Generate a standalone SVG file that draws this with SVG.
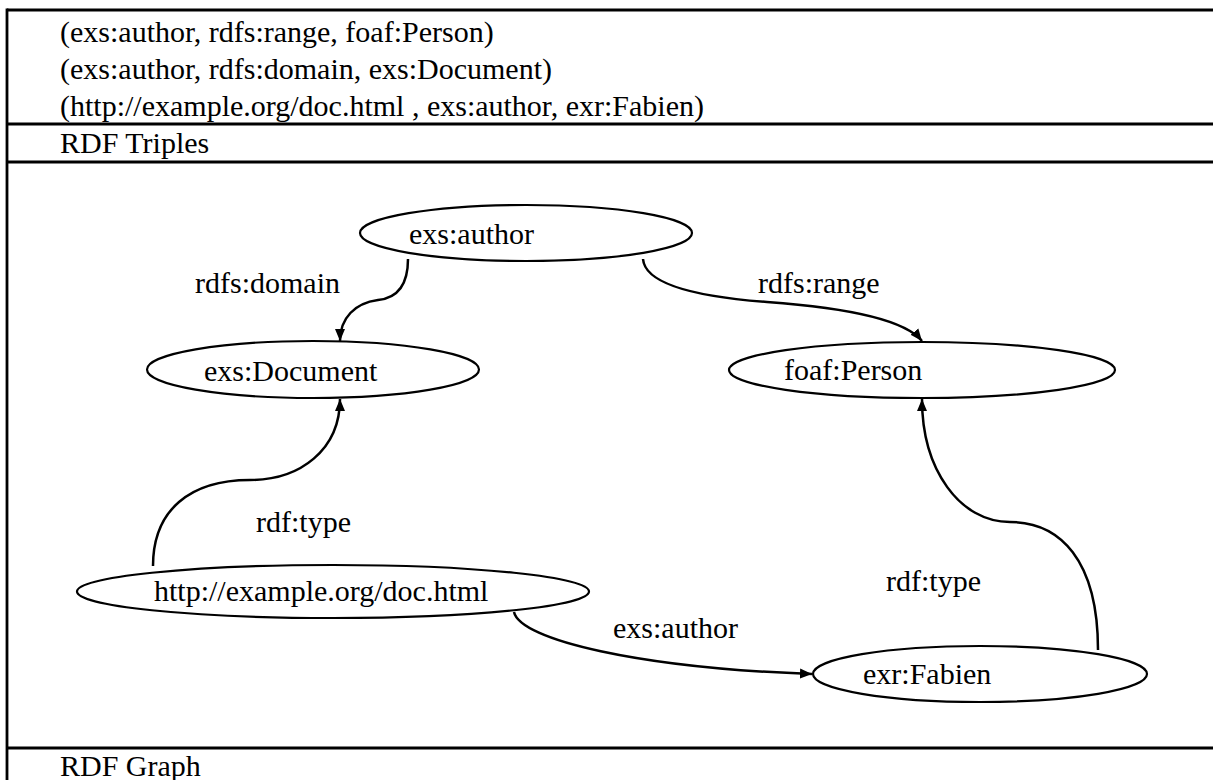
<svg xmlns="http://www.w3.org/2000/svg" width="1213" height="780" viewBox="0 0 1213 780">
<style>
text{font-family:"Liberation Serif","Times New Roman",serif;font-size:30px;fill:#000}
.tbl{stroke:#000;stroke-width:2.8;fill:none}
.node ellipse{fill:#fff;stroke:#000;stroke-width:2.2}
.edge{fill:none;stroke:#000;stroke-width:2.5}
</style>
<defs>
<marker id="arr" markerWidth="14" markerHeight="12" refX="12" refY="6" orient="auto" markerUnits="userSpaceOnUse">
<path d="M0,1 L12,6 L0,11 Z" fill="#000"/>
</marker>
</defs>
<rect width="1213" height="780" fill="#fff"/>
<g id="table">
<line class="tbl" x1="7" y1="10" x2="1213" y2="10"/>
<line class="tbl" x1="7" y1="124" x2="1213" y2="124"/>
<line class="tbl" x1="7" y1="162" x2="1213" y2="162"/>
<line class="tbl" x1="7" y1="748" x2="1213" y2="748"/>
<line class="tbl" x1="7" y1="8.6" x2="7" y2="780"/>
<text x="60" y="42">(exs:author, rdfs:range, foaf:Person)</text>
<text x="60" y="79">(exs:author, rdfs:domain, exs:Document)</text>
<text x="60" y="116">(http://example.org/doc.html , exs:author, exr:Fabien)</text>
<text x="60" y="153">RDF Triples</text>
<text x="60" y="776">RDF Graph</text>
</g>
<g id="connectors">
<path class="edge" marker-end="url(#arr)" d="M408,259 C408,285 398,298 378,300 C355,303 340,318 340,341"/>
<path class="edge" marker-end="url(#arr)" d="M643,259 C645,285 700,297 767,302 C850,308 905,320 922,341"/>
<path class="edge" marker-end="url(#arr)" d="M153,566 C153,510 190,480 250,480 C300,480 340,450 340,399"/>
<path class="edge" marker-end="url(#arr)" d="M514,612 C520,640 640,668 812,674"/>
<path class="edge" marker-end="url(#arr)" d="M1098,650 C1098,560 1060,522 1010,522 C960,522 922,470 922,399"/>
<text x="195" y="293">rdfs:domain</text>
<text x="758" y="293">rdfs:range</text>
<text x="256" y="532">rdf:type</text>
<text x="613" y="638">exs:author</text>
<text x="886" y="591">rdf:type</text>
</g>
<g id="n-author" class="node">
<ellipse cx="526" cy="233" rx="166" ry="28"/>
<text x="409" y="244">exs:author</text>
</g>
<g id="n-document" class="node">
<ellipse cx="313" cy="369.5" rx="166" ry="28.5"/>
<text x="204" y="381">exs:Document</text>
</g>
<g id="n-person" class="node">
<ellipse cx="922" cy="370" rx="193" ry="28"/>
<text x="784" y="380">foaf:Person</text>
</g>
<g id="n-doc" class="node">
<ellipse cx="333" cy="591.5" rx="256" ry="26.5"/>
<text x="154" y="601">http://example.org/doc.html</text>
</g>
<g id="n-fabien" class="node">
<ellipse cx="980" cy="674" rx="167" ry="28"/>
<text x="863" y="684">exr:Fabien</text>
</g>
</svg>
